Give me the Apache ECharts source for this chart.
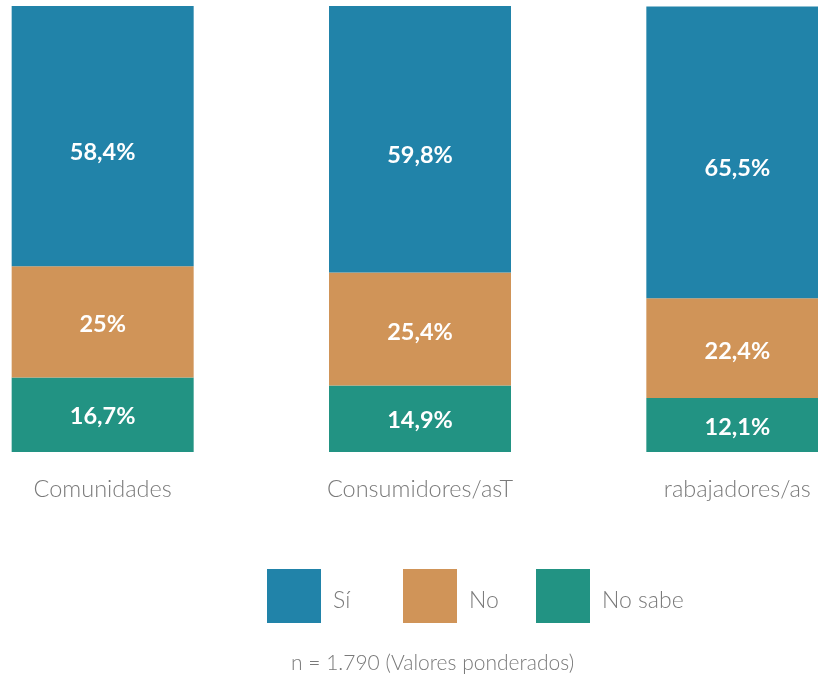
<!DOCTYPE html>
<html>
<head>
<meta charset="utf-8">
<script src="https://cdn.jsdelivr.net/npm/echarts@6/dist/echarts.min.js"></script>
<style>
  html, body { margin: 0; padding: 0; background: #fff; }
  #chart { width: 818px; height: 680px; }
</style>
</head>
<body>
<div id="chart"></div>
<script>
var categories = ['Comunidades', 'Consumidores/asT', 'rabajadores/as'];
var si = [58.4, 59.8, 65.5];
var no = [25, 25.4, 22.4];
var noSabe = [16.7, 14.9, 12.1];
var note = 'n = 1.790 (Valores ponderados)';

var chart = echarts.init(document.getElementById('chart'));
var font = 'Lato';
var grey = '#7a7a7a';
var blue = '#2183a9', orange = '#d09458', teal = '#229383';

function fmt(p) {
    return String(p.value).replace('.', ',') + '%';
}

function barLabel(dy) {
    return {
        show: true,
        position: 'inside',
        formatter: fmt,
        color: '#fff',
        fontFamily: font,
        fontWeight: 'bold',
        fontSize: 23.5,
        offset: [0, dy]
    };
}

function legendAt(name, x) {
    return {
        data: [name],
        left: x,
        top: 569,
        padding: 0,
        itemWidth: 54,
        itemHeight: 54,
        icon: 'rect',
        selectedMode: false,
        formatter: '{t|{name}}',
        textStyle: {
            rich: {
                t: {
                    color: grey,
                    fontFamily: font,
                    fontWeight: 300,
                    fontSize: 23,
                    padding: [10, 0, 0, 7]
                }
            }
        }
    };
}

var option = {
    animation: false,
    title: {
        text: note,
        left: 291,
        top: 653,
        padding: 0,
        textStyle: {
            color: grey,
            fontFamily: font,
            fontWeight: 300,
            fontSize: 21
        }
    },
    legend: [
        legendAt('Sí', 267),
        legendAt('No', 403),
        legendAt('No sabe', 536)
    ],
    grid: {
        left: -56,
        right: -78,
        top: 6,
        bottom: 228,
        outerBoundsMode: 'none'
    },
    xAxis: {
        type: 'category',
        data: categories,
        axisLine: { show: false },
        axisTick: { show: false },
        axisLabel: {
            color: grey,
            fontFamily: font,
            fontWeight: 300,
            fontSize: 23.5,
            margin: 25
        }
    },
    yAxis: {
        type: 'value',
        min: 0,
        max: 100.1,
        show: false
    },
    series: [
        {
            name: 'No sabe',
            type: 'bar',
            stack: 'total',
            barWidth: 182,
            itemStyle: { color: teal },
            data: noSabe,
            label: barLabel(2)
        },
        {
            name: 'No',
            type: 'bar',
            stack: 'total',
            barWidth: 182,
            itemStyle: { color: orange },
            data: no,
            label: barLabel(3)
        },
        {
            name: 'Sí',
            type: 'bar',
            stack: 'total',
            barWidth: 182,
            itemStyle: { color: blue },
            data: si,
            label: barLabel(16)
        }
    ]
};
chart.setOption(option);
</script>
</body>
</html>
